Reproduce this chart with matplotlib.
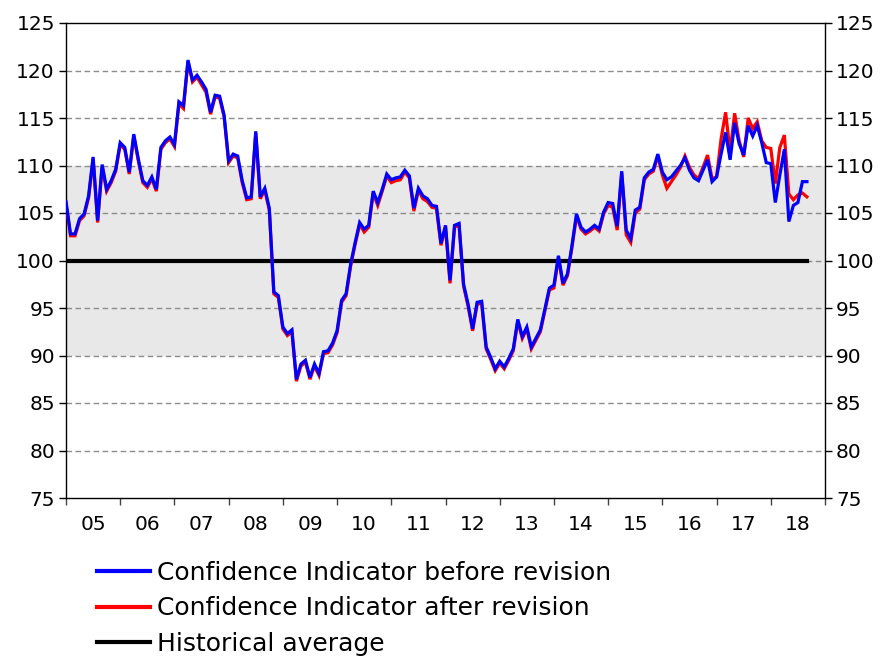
import numpy as np
import pandas as pd
import matplotlib
matplotlib.use("Agg")
import matplotlib.pyplot as plt
from matplotlib.ticker import FixedLocator, NullFormatter, FixedFormatter

# ---- data (monthly, Jan 2005 .. Sep 2018) ----
dates = pd.date_range("2005-01-01", periods=165, freq="MS")

before_revision = [
    106.2, 102.8, 102.8, 104.4, 104.9, 106.8, 110.9, 104.2, 110.1, 107.5, 108.4, 109.6,
    112.4, 111.9, 109.3, 113.3, 110.7, 108.4, 107.9, 108.8, 107.5, 111.9, 112.6, 113.0,
    112.2, 116.7, 116.3, 121.1, 119.0, 119.5, 118.8, 118.0, 115.6, 117.4, 117.3, 115.3,
    110.5, 111.2, 111.0, 108.4, 106.6, 106.7, 113.6, 106.7, 107.6, 105.5, 96.7, 96.3,
    93.0, 92.3, 92.7, 87.5, 89.1, 89.5, 87.7, 89.1, 88.1, 90.4, 90.5, 91.3,
    92.6, 95.8, 96.5, 99.6, 101.9, 104.0, 103.3, 103.7, 107.3, 106.1, 107.5, 109.1,
    108.5, 108.7, 108.8, 109.5, 108.9, 105.5, 107.6, 106.8, 106.5, 105.8, 105.7, 101.8,
    103.7, 97.9, 103.7, 103.9, 97.5, 95.4, 92.8, 95.6, 95.7, 90.9, 89.8, 88.6,
    89.4, 88.8, 89.7, 90.7, 93.8, 92.0, 93.0, 90.9, 91.8, 92.7, 94.9, 97.1,
    97.4, 100.5, 97.6, 98.6, 101.6, 104.9, 103.5, 103.0, 103.3, 103.7, 103.3, 105.1,
    106.1, 106.0, 103.6, 109.4, 103.2, 102.3, 105.3, 105.6, 108.7, 109.3, 109.6, 111.2,
    109.3, 108.5, 108.8, 109.4, 110.0, 110.8, 109.5, 108.7, 108.4, 109.5, 110.6, 108.3,
    108.8, 111.2, 113.5, 110.6, 114.5, 112.3, 111.1, 114.2, 113.1, 114.2, 112.4, 110.3,
    110.2, 106.1, 109.0, 111.7, 104.1, 105.8, 106.1, 108.3, 108.3,
]

after_revision = [
    106.0, 102.6, 102.6, 104.2, 104.7, 106.6, 110.7, 104.0, 109.9, 107.3, 108.2, 109.4,
    112.2, 111.7, 109.1, 113.1, 110.5, 108.2, 107.7, 108.6, 107.3, 111.7, 112.4, 112.8,
    112.0, 116.5, 116.0, 120.9, 118.8, 119.3, 118.5, 117.7, 115.4, 117.2, 117.1, 115.1,
    110.3, 111.0, 110.8, 108.2, 106.4, 106.5, 113.4, 106.5, 107.4, 105.3, 96.5, 96.1,
    92.8, 92.1, 92.5, 87.3, 88.9, 89.3, 87.5, 88.9, 87.9, 90.2, 90.3, 91.1,
    92.4, 95.6, 96.3, 99.4, 101.7, 103.8, 103.0, 103.5, 107.1, 105.8, 107.3, 108.9,
    108.2, 108.4, 108.5, 109.3, 108.7, 105.2, 107.4, 106.5, 106.2, 105.6, 105.5, 101.6,
    103.5, 97.6, 103.5, 103.7, 97.3, 95.2, 92.6, 95.4, 95.5, 90.7, 89.6, 88.4,
    89.2, 88.6, 89.5, 90.5, 93.6, 91.8, 92.8, 90.7, 91.6, 92.5, 94.7, 96.9,
    97.1, 100.3, 97.4, 98.4, 101.4, 104.7, 103.3, 102.8, 103.1, 103.5, 103.1, 104.9,
    105.8, 105.6, 103.2, 109.2, 102.7, 101.9, 105.0, 105.4, 108.5, 109.1, 109.4, 111.0,
    109.0, 107.6, 108.3, 109.0, 109.8, 111.0, 109.8, 109.0, 108.6, 109.8, 111.1, 108.6,
    108.8, 112.8, 115.6, 111.4, 115.5, 112.6, 110.9, 115.0, 113.9, 114.6, 112.6, 111.9,
    111.8, 108.1, 111.9, 113.2, 107.0, 106.4, 106.9, 107.1, 106.7,
]

historical_average = [100.0] * len(dates)

years = list(range(2005, 2020))
year_labels = ["05", "06", "07", "08", "09", "10", "11", "12", "13", "14", "15", "16", "17", "18"]
y_ticks = [75, 80, 85, 90, 95, 100, 105, 110, 115, 120, 125]
band = (90, 110)

# ---- plot ----
plt.rcParams["font.family"] = ["DejaVu Sans"]
fig = plt.figure(figsize=(8.83, 6.57), dpi=100)
ax = fig.add_axes([66 / 883, 1 - 498 / 657, 759 / 883, 475 / 657])

x_dates = [d.year + (d.month - 1) / 12 for d in dates]

ax.axhspan(band[0], band[1], color="#e8e8e8", zorder=0, lw=0)
for yv in y_ticks[1:-1]:
    ax.axhline(yv, color="#8c8c8c", lw=1.0, ls=(0, (4, 2.5)), zorder=1)

ax.plot(x_dates, after_revision, color="#ff0000", lw=2.3, zorder=3,
        label="Confidence Indicator after revision", solid_joinstyle="miter")
ax.plot(x_dates, before_revision, color="#0000ff", lw=2.3, zorder=4,
        label="Confidence Indicator before revision", solid_joinstyle="miter")
ax.plot(x_dates, historical_average, color="black", lw=3.0, zorder=2,
        label="Historical average")

ax.set_xlim(2005, 2019)
ax.set_ylim(75, 125)

ax.xaxis.set_major_locator(FixedLocator(years))
ax.xaxis.set_major_formatter(NullFormatter())
ax.xaxis.set_minor_locator(FixedLocator([y + 0.5 for y in years[:-1]]))
ax.xaxis.set_minor_formatter(FixedFormatter(year_labels))
ax.tick_params(axis="x", which="major", direction="out", length=5, width=1, color="#444444")
ax.tick_params(axis="x", which="minor", length=0, pad=12, labelsize=14.5)

ax.set_yticks(y_ticks)
ax.tick_params(axis="y", which="major", direction="out", length=5, width=1,
               labelsize=14.5, left=True, right=True, labelleft=True, labelright=True,
               pad=3)

for s in ax.spines.values():
    s.set_color("black")
    s.set_linewidth(1.0)

handles, labels = ax.get_legend_handles_labels()
order = [1, 0, 2]
leg = fig.legend([handles[i] for i in order], [labels[i] for i in order],
                 loc="upper left", bbox_to_anchor=(97 / 883, 1 - 561 / 657),
                 frameon=False, fontsize=18, handlelength=2.12, handletextpad=0.27,
                 labelspacing=0.45, borderpad=0, borderaxespad=0)
for line in leg.get_lines():
    line.set_linewidth(3.0)

fig.savefig("out.png", dpi=100)
